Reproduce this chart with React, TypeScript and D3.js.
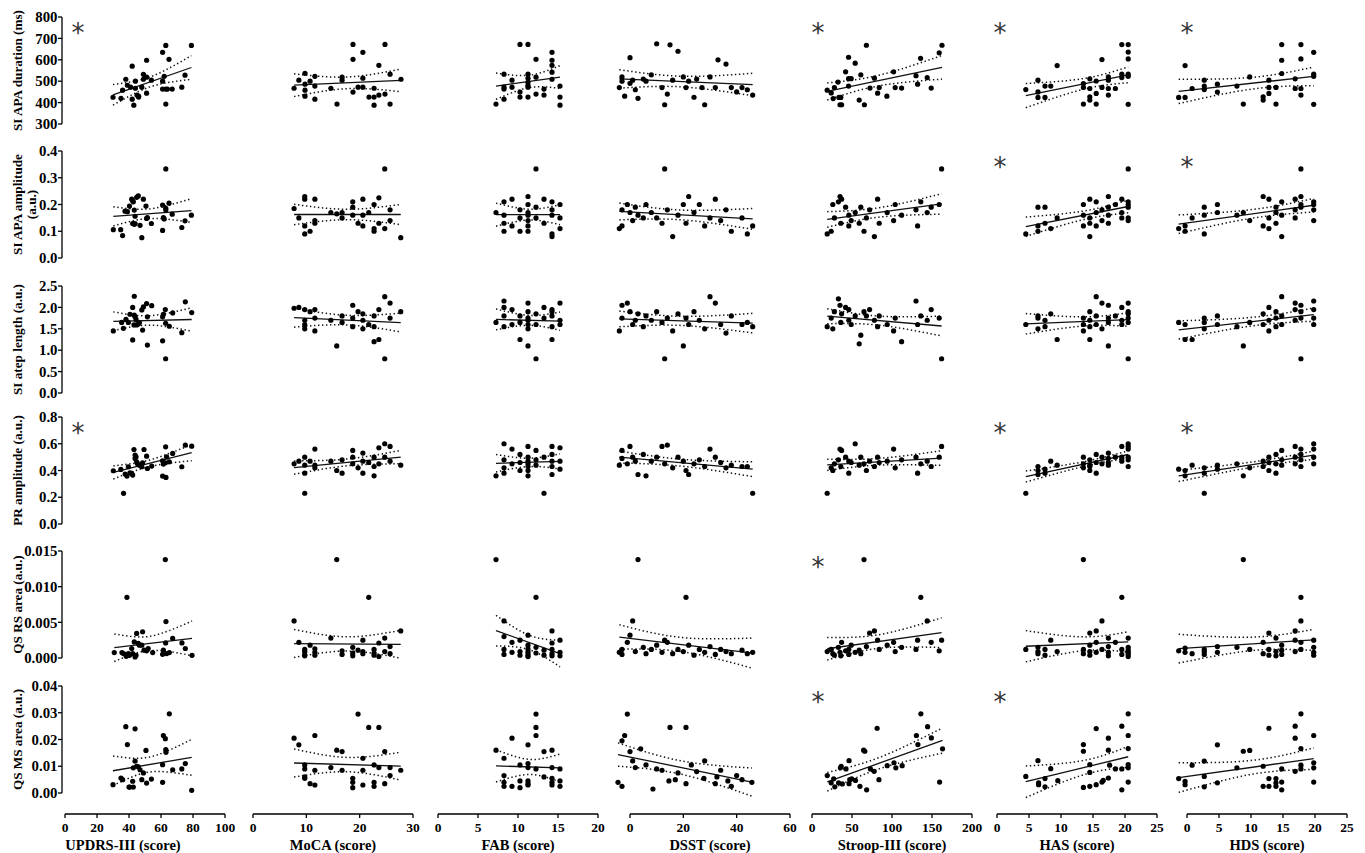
import React from 'react';
import * as d3 from 'd3';

// ---------- axis definitions ----------
const scoreLabels = ['UPDRS-III (score)', 'MoCA (score)', 'FAB (score)', 'DSST (score)', 'Stroop-III (score)', 'HAS (score)', 'HDS (score)'];
const xDomains: [number, number][] = [[0, 100], [0, 30], [0, 20], [0, 60], [0, 200], [0, 25], [0, 25]];
const xTicks = [[0, 20, 40, 60, 80, 100], [0, 10, 20, 30], [0, 5, 10, 15, 20], [0, 20, 40, 60], [0, 50, 100, 150, 200], [0, 5, 10, 15, 20, 25], [0, 5, 10, 15, 20, 25]];

const measureLabels = [['SI APA duration (ms)'], ['SI APA amplitude', '(a.u.)'], ['SI atep length (a.u.)'], ['PR amplitude (a.u.)'], ['QS RS area (a.u.)'], ['QS MS area (a.u.)']];
const yDomains: [number, number][] = [[300, 800], [0, 0.4], [0, 2.5], [0, 0.8], [0, 0.015], [0, 0.04]];
const yTicks = [[300, 400, 500, 600, 700, 800], [0, 0.1, 0.2, 0.3, 0.4], [0, 0.5, 1, 1.5, 2, 2.5], [0, 0.2, 0.4, 0.6, 0.8], [0, 0.005, 0.01, 0.015], [0, 0.01, 0.02, 0.03, 0.04]];
const yDecimals = [0, 1, 1, 1, 3, 2];

// significance markers (row x column)
const significant = [
  [1, 0, 0, 0, 1, 1, 1],
  [0, 0, 0, 0, 0, 1, 1],
  [0, 0, 0, 0, 0, 0, 0],
  [1, 0, 0, 0, 0, 1, 1],
  [0, 0, 0, 0, 1, 0, 0],
  [0, 0, 0, 0, 1, 1, 0],
];

// ---------- data: row 0, SI APA duration (ms) ----------
const durUPDRS = [[30,425],[35,420],[36,458],[38,509],[39,481],[41,472],[42,570],[42,416],[43,388],[44,467],[44,500],[45,435],[46,426],[46,430],[48,472],[49,509],[49,532],[51,598],[51,519],[51,444],[54,505],[61,635],[61,500],[61,463],[62,523],[63,667],[63,463],[63,393],[64,463],[65,602],[67,463],[73,472],[75,528],[79,667]];
const durMoCA = [[7.7,467],[8.6,505],[9.75,537],[9.75,486],[9.75,458],[9.75,430],[10.7,500],[11.6,523],[11.6,477],[11.6,416],[14.6,467],[15.75,393],[16.7,519],[16.7,505],[18.75,672],[18.75,602],[18.75,449],[19.7,472],[20.6,635],[20.6,514],[20.6,472],[21.75,426],[22.7,467],[22.7,426],[22.7,388],[23.6,574],[23.6,435],[24.75,672],[24.75,440],[25.7,533],[25.7,393],[27.75,509]];
const durFAB = [[7.25,393],[8.25,533],[8.25,472],[8.25,463],[8.25,416],[9.25,505],[9.25,472],[10.25,672],[10.25,449],[10.25,426],[11.25,672],[11.25,533],[11.25,514],[11.25,495],[11.25,481],[11.25,472],[11.25,426],[12.25,602],[12.25,519],[12.25,440],[13.25,463],[13.25,435],[14.25,635],[14.25,598],[14.25,574],[14.25,509],[14.25,542],[15.25,477],[15.25,426],[15.25,388]];
const durDSST = [[-4,470],[-3,500],[-3,520],[-2,430],[0,610],[0,490],[1,505],[2,460],[3,420],[5,510],[6,500],[8,530],[10,675],[12,470],[13,390],[14,440],[15,670],[16,505],[18,640],[20,520],[21,470],[22,500],[24,425],[25,510],[27,470],[28,390],[30,520],[32,470],[33,600],[36,580],[38,470],[40,450],[42,470],[44,460],[46,435]];
const durStroop = [[19,458],[24,445],[28,470],[26.5,419],[32.5,496],[33.6,424],[35,390],[37,390],[36,424],[42,544],[45.7,477],[45.7,512],[49,512],[45.7,612],[54,584],[59,412],[61,530],[65.5,390],[68,668],[72.5,468],[78,514],[82,444],[84,470],[93.6,430],[102,544],[104,470],[112,468],[130,526],[132,486],[135.7,607],[144,517],[149,468],[159,633],[162.5,668]];
const durHAS = [[4.5,461],[6.4,505],[6.4,450],[6.4,424],[7.5,424],[7.5,477],[8.4,477],[9.4,573],[13.5,489],[13.5,471],[13.5,393],[14.5,511],[14.5,466],[14.5,427],[14.5,412],[15.5,501],[15.5,443],[15.5,393],[16.4,601],[16.4,471],[17.4,520],[17.4,505],[17.4,466],[17.4,435],[18.5,466],[19.5,671],[19.5,533],[19.5,517],[20.5,671],[20.5,636],[20.5,604],[20.5,533],[20.5,523],[20.5,392]];
const durHDS = [[-1.3,424],[-0.3,424],[-0.3,573],[0.8,466],[2.7,505],[2.7,477],[2.7,461],[4.75,486],[4.75,449],[7.8,477],[8.8,393],[9.8,520],[11.9,427],[11.9,412],[12.8,505],[12.8,471],[12.8,443],[13.9,471],[13.9,393],[14.8,671],[14.8,598],[14.8,536],[16.9,511],[16.9,466],[17.8,671],[17.8,604],[17.8,466],[17.8,435],[19.8,635],[19.8,533],[19.8,523],[19.8,392]];

// ---------- row 1, SI APA amplitude ----------
const ampUPDRS = [[30.2,0.106],[34.8,0.106],[36,0.084],[37.5,0.175],[39,0.173],[40.3,0.194],[41.7,0.22],[42.3,0.214],[42.7,0.21],[42.3,0.129],[43.3,0.126],[43.8,0.129],[43.3,0.179],[43.8,0.156],[44.8,0.227],[45.8,0.232],[46.9,0.122],[48,0.076],[49,0.22],[50.6,0.194],[51,0.148],[51.5,0.151],[54,0.129],[61,0.198],[61,0.103],[61.5,0.151],[62,0.146],[63,0.333],[63,0.186],[63,0.179],[65,0.205],[67,0.164],[73,0.114],[75,0.139],[79,0.16]];
const ampMoCA = [[7.7,0.185],[8.6,0.15],[9.7,0.23],[9.7,0.22],[9.7,0.12],[9.7,0.09],[10.7,0.1],[11.6,0.22],[11.6,0.14],[11.6,0.13],[14.6,0.17],[15.7,0.165],[16.7,0.15],[16.7,0.17],[18.7,0.19],[18.7,0.16],[18.7,0.21],[19.7,0.13],[20.6,0.12],[20.6,0.16],[20.6,0.22],[21.7,0.17],[22.7,0.2],[22.7,0.11],[22.7,0.1],[23.6,0.225],[23.6,0.13],[24.7,0.333],[24.7,0.11],[25.7,0.18],[25.7,0.14],[27.7,0.076]];
const ampFAB = [[7.25,0.17],[8.25,0.21],[8.25,0.16],[8.25,0.13],[8.25,0.1],[9.25,0.22],[9.25,0.12],[10.25,0.18],[10.25,0.15],[10.25,0.1],[11.25,0.23],[11.25,0.2],[11.25,0.17],[11.25,0.16],[11.25,0.14],[11.25,0.12],[11.25,0.1],[12.25,0.333],[12.25,0.19],[12.25,0.15],[13.25,0.22],[13.25,0.13],[14.25,0.21],[14.25,0.18],[14.25,0.16],[14.25,0.09],[14.25,0.08],[15.25,0.2],[15.25,0.15],[15.25,0.11]];
const ampDSST = [[-4,0.11],[-3,0.12],[-3,0.18],[-1,0.2],[0,0.17],[1,0.14],[2,0.19],[3,0.16],[5,0.15],[6,0.2],[8,0.17],[10,0.15],[12,0.13],[13,0.333],[14,0.18],[16,0.08],[18,0.16],[20,0.2],[21,0.13],[22,0.23],[24,0.17],[26,0.2],[28,0.12],[30,0.15],[32,0.22],[34,0.14],[36,0.18],[38,0.1],[42,0.15],[44,0.09],[46,0.12]];
const ampStroop = [[19,0.09],[24,0.1],[26,0.2],[28,0.15],[33,0.21],[35,0.23],[37,0.22],[36,0.13],[42,0.19],[46,0.12],[46,0.16],[49,0.14],[54,0.17],[59,0.13],[61,0.19],[65,0.1],[68,0.15],[72,0.18],[78,0.08],[82,0.22],[84,0.13],[94,0.17],[102,0.14],[104,0.2],[112,0.16],[130,0.18],[132,0.12],[136,0.21],[144,0.17],[149,0.19],[159,0.2],[162,0.333]];
const ampHAS = [[4.5,0.09],[6.4,0.1],[6.4,0.19],[6.4,0.12],[7.5,0.13],[7.5,0.19],[8.4,0.11],[9.4,0.15],[13.5,0.2],[13.5,0.16],[13.5,0.12],[14.5,0.22],[14.5,0.15],[14.5,0.13],[14.5,0.08],[15.5,0.21],[15.5,0.17],[15.5,0.12],[16.4,0.18],[16.4,0.14],[17.4,0.23],[17.4,0.19],[17.4,0.16],[17.4,0.13],[18.5,0.2],[19.5,0.22],[19.5,0.17],[19.5,0.15],[20.5,0.333],[20.5,0.21],[20.5,0.2],[20.5,0.19],[20.5,0.15],[20.5,0.14]];
const ampHDS = [[-1.3,0.11],[-0.3,0.12],[-0.3,0.1],[0.8,0.15],[2.7,0.19],[2.7,0.16],[2.7,0.09],[4.75,0.2],[4.75,0.17],[7.8,0.16],[8.8,0.17],[9.8,0.14],[11.9,0.23],[11.9,0.12],[12.8,0.22],[12.8,0.15],[12.8,0.11],[13.9,0.19],[13.9,0.17],[13.9,0.13],[14.8,0.21],[14.8,0.16],[14.8,0.08],[16.9,0.22],[16.9,0.18],[16.9,0.15],[17.8,0.333],[17.8,0.2],[17.8,0.19],[17.8,0.23],[19.8,0.21],[19.8,0.2],[19.8,0.18],[19.8,0.14]];

// ---------- row 2, SI step length ----------
const lenUPDRS = [[30.2,1.45],[35.4,1.65],[36.5,1.51],[38.1,1.72],[39.6,1.65],[40.6,1.84],[42.3,2.0],[42.3,1.24],[43.3,2.26],[43.3,1.82],[43.8,1.78],[44.4,1.72],[43.1,1.59],[44.8,1.59],[45.8,1.61],[46.5,1.64],[48,1.94],[48.5,1.47],[49,2.01],[51,2.09],[51.5,1.78],[51.5,1.12],[54.2,2.04],[61,1.78],[61,1.22],[61.5,1.84],[62.7,1.95],[62.9,1.63],[62.9,0.8],[65.2,1.56],[67.3,1.87],[73,1.41],[75.2,2.13],[79.2,1.88]];
const lenMoCA = [[7.7,1.98],[8.6,2.0],[9.7,1.95],[9.7,1.6],[9.7,1.5],[9.7,1.7],[10.7,1.9],[11.6,1.95],[11.6,1.45],[11.6,1.75],[14.6,1.7],[15.7,1.1],[16.7,1.8],[16.7,1.65],[18.7,2.05],[18.7,1.55],[18.7,1.75],[19.7,1.9],[20.6,1.7],[20.6,1.5],[20.6,1.85],[21.7,1.6],[22.7,1.8],[22.7,1.55],[22.7,1.2],[23.6,1.95],[23.6,1.25],[24.7,0.8],[24.7,2.25],[25.7,2.1],[25.7,1.75],[27.7,1.9]];
const lenFAB = [[7.25,1.65],[8.25,2.15],[8.25,2.0],[8.25,1.8],[8.25,1.55],[9.25,1.95],[9.25,1.6],[10.25,1.8],[10.25,1.25],[10.25,1.65],[11.25,2.1],[11.25,1.9],[11.25,1.75],[11.25,1.6],[11.25,1.5],[11.25,1.7],[11.25,1.1],[12.25,0.8],[12.25,1.85],[12.25,1.6],[13.25,1.75],[13.25,2.0],[14.25,1.9],[14.25,1.8],[14.25,1.55],[14.25,1.25],[14.25,1.95],[15.25,2.1],[15.25,1.6],[15.25,1.7]];
const lenDSST = [[-4,1.45],[-3,2.05],[-3,1.75],[-1,2.1],[0,1.9],[1,1.6],[2,1.7],[3,1.85],[5,1.55],[6,1.8],[8,1.7],[10,1.9],[12,1.65],[13,0.8],[14,1.75],[16,1.45],[18,1.85],[20,1.1],[21,1.75],[22,1.6],[24,1.9],[26,1.7],[28,1.5],[30,2.25],[32,2.1],[34,1.6],[36,1.4],[38,1.8],[42,1.6],[44,1.65],[46,1.55]];
const lenStroop = [[19,1.55],[24,1.75],[26,1.5],[28,1.9],[33,2.2],[35,2.05],[37,1.85],[36,1.65],[42,2.0],[46,1.95],[46,1.7],[49,1.6],[54,1.8],[59,1.15],[61,1.35],[65,1.9],[68,1.8],[72,1.95],[78,1.7],[82,1.55],[84,1.8],[94,1.6],[102,1.45],[104,1.75],[112,1.2],[130,2.15],[132,1.6],[136,1.8],[144,1.7],[149,1.95],[159,1.75],[162,0.8]];
const lenHAS = [[4.5,1.6],[6.4,1.8],[6.4,1.5],[6.4,1.75],[7.5,1.55],[7.5,1.7],[8.4,1.85],[9.4,1.25],[13.5,1.75],[13.5,1.6],[13.5,1.45],[14.5,1.9],[14.5,1.7],[14.5,1.55],[14.5,1.25],[15.5,2.25],[15.5,1.8],[15.5,1.6],[16.4,2.1],[16.4,1.5],[17.4,2.05],[17.4,1.75],[17.4,1.65],[17.4,1.1],[18.5,1.8],[19.5,2.0],[19.5,1.7],[19.5,1.6],[20.5,0.8],[20.5,2.1],[20.5,1.9],[20.5,1.85],[20.5,1.75],[20.5,1.65]];
const lenHDS = [[-1.3,1.65],[-0.3,1.25],[-0.3,1.6],[0.8,1.25],[2.7,1.75],[2.7,1.5],[2.7,1.65],[4.75,1.8],[4.75,1.6],[7.8,1.55],[8.8,1.1],[9.8,1.65],[11.9,1.85],[11.9,1.6],[12.8,2.0],[12.8,1.7],[12.8,1.45],[13.9,1.9],[13.9,1.75],[13.9,1.55],[14.8,2.25],[14.8,1.8],[14.8,1.6],[16.9,2.1],[16.9,1.95],[16.9,1.7],[17.8,0.8],[17.8,2.05],[17.8,1.9],[17.8,1.75],[19.8,2.15],[19.8,1.95],[19.8,1.75],[19.8,1.6]];

// ---------- row 3, PR amplitude ----------
const prUPDRS = [[30.2,0.398],[34.9,0.408],[36.6,0.229],[37.6,0.373],[38.7,0.358],[39.6,0.428],[40.6,0.383],[41.7,0.378],[42.3,0.366],[43.1,0.557],[43.8,0.49],[44.4,0.502],[44.8,0.465],[45.2,0.453],[43.8,0.515],[46.5,0.44],[48,0.428],[48.5,0.458],[49.4,0.557],[51,0.507],[51.5,0.415],[54.2,0.433],[61,0.473],[61,0.358],[61.5,0.448],[62.7,0.458],[62.9,0.577],[63.1,0.348],[63.5,0.502],[65.2,0.465],[67.3,0.528],[73,0.428],[75.2,0.59],[79.2,0.582]];
const prMoCA = [[7.7,0.45],[8.6,0.47],[9.7,0.38],[9.7,0.23],[9.7,0.44],[9.7,0.5],[10.7,0.47],[11.6,0.56],[11.6,0.42],[11.6,0.44],[14.6,0.47],[15.7,0.4],[16.7,0.48],[16.7,0.38],[18.7,0.45],[18.7,0.5],[18.7,0.55],[19.7,0.42],[20.6,0.47],[20.6,0.53],[20.6,0.38],[21.7,0.46],[22.7,0.5],[22.7,0.43],[22.7,0.36],[23.6,0.57],[23.6,0.45],[24.7,0.5],[24.7,0.6],[25.7,0.58],[25.7,0.47],[27.7,0.44]];
const prFAB = [[7.25,0.36],[8.25,0.6],[8.25,0.48],[8.25,0.42],[8.25,0.38],[9.25,0.56],[9.25,0.45],[10.25,0.52],[10.25,0.46],[10.25,0.4],[11.25,0.58],[11.25,0.5],[11.25,0.47],[11.25,0.45],[11.25,0.43],[11.25,0.4],[11.25,0.36],[12.25,0.55],[12.25,0.48],[12.25,0.44],[13.25,0.23],[13.25,0.5],[14.25,0.58],[14.25,0.52],[14.25,0.47],[14.25,0.43],[14.25,0.37],[15.25,0.57],[15.25,0.47],[15.25,0.41]];
const prDSST = [[-4,0.44],[-3,0.49],[-3,0.55],[-1,0.45],[0,0.58],[1,0.5],[2,0.47],[3,0.37],[5,0.52],[6,0.36],[8,0.47],[10,0.5],[12,0.58],[13,0.45],[14,0.59],[16,0.42],[18,0.5],[20,0.47],[21,0.4],[22,0.37],[24,0.45],[26,0.48],[28,0.43],[30,0.56],[32,0.5],[34,0.46],[36,0.42],[38,0.44],[42,0.43],[44,0.43],[46,0.23]];
const prStroop = [[19,0.23],[24,0.42],[26,0.4],[28,0.45],[33,0.48],[35,0.56],[37,0.55],[36,0.43],[42,0.5],[46,0.47],[46,0.38],[49,0.46],[54,0.6],[59,0.44],[61,0.5],[65,0.45],[68,0.4],[72,0.47],[78,0.43],[82,0.5],[84,0.46],[94,0.47],[102,0.56],[104,0.42],[112,0.48],[130,0.5],[132,0.38],[136,0.45],[144,0.47],[149,0.43],[159,0.5],[162,0.58]];
const prHAS = [[4.5,0.23],[6.4,0.4],[6.4,0.37],[6.4,0.43],[7.5,0.41],[7.5,0.38],[8.4,0.47],[9.4,0.44],[13.5,0.45],[13.5,0.42],[13.5,0.5],[14.5,0.48],[14.5,0.44],[14.5,0.43],[14.5,0.4],[15.5,0.52],[15.5,0.46],[15.5,0.38],[16.4,0.5],[16.4,0.45],[17.4,0.53],[17.4,0.49],[17.4,0.46],[17.4,0.44],[18.5,0.5],[19.5,0.58],[19.5,0.5],[19.5,0.47],[20.5,0.6],[20.5,0.58],[20.5,0.56],[20.5,0.5],[20.5,0.48],[20.5,0.43]];
const prHDS = [[-1.3,0.41],[-0.3,0.4],[-0.3,0.36],[0.8,0.44],[2.7,0.23],[2.7,0.42],[2.7,0.38],[4.75,0.44],[4.75,0.41],[7.8,0.45],[8.8,0.36],[9.8,0.42],[11.9,0.47],[11.9,0.43],[12.8,0.5],[12.8,0.46],[12.8,0.4],[13.9,0.52],[13.9,0.45],[13.9,0.38],[14.8,0.55],[14.8,0.48],[14.8,0.44],[16.9,0.58],[16.9,0.5],[16.9,0.45],[17.8,0.56],[17.8,0.52],[17.8,0.48],[17.8,0.43],[19.8,0.6],[19.8,0.56],[19.8,0.5],[19.8,0.45]];

// ---------- row 4, QS RS area ----------
const rsUPDRS = [[30.8,0.00076],[35.6,0.00076],[36.6,0.00062],[38.3,0.00024],[38.7,0.0085],[39.6,0.00062],[40.3,0.00038],[41.7,0.00133],[42.3,0.00062],[43.3,0.00226],[43.8,0.00014],[44.4,0.00038],[44.8,0.00345],[45.8,0.00204],[46.5,0.0018],[48,0.0018],[48.5,0.00368],[49.4,0.0011],[51,0.001],[52,0.00133],[54.8,0.00076],[61,0.00052],[61.5,0.0011],[62.7,0.0138],[63.1,0.0051],[62.9,0.00212],[63.5,0.00062],[65.2,0.00076],[67.3,0.00274],[73.1,0.00212],[75.2,0.00133],[79.4,0.00038]];
const rsMoCA = [[7.7,0.0052],[8.6,0.0022],[9.7,0.0009],[9.7,0.0005],[9.7,0.0012],[9.7,0.0003],[10.7,0.0018],[11.6,0.0008],[11.6,0.0004],[11.6,0.0013],[14.6,0.0028],[15.7,0.0138],[16.7,0.001],[16.7,0.0005],[18.7,0.0015],[18.7,0.0007],[18.7,0.0003],[19.7,0.0011],[20.6,0.0006],[20.6,0.0025],[20.6,0.0009],[21.7,0.0085],[22.7,0.0004],[22.7,0.0012],[22.7,0.0007],[23.6,0.0021],[23.6,0.0002],[24.7,0.0028],[24.7,0.0009],[25.7,0.0016],[25.7,0.0006],[27.7,0.0038]];
const rsFAB = [[7.25,0.0138],[8.25,0.0052],[8.25,0.003],[8.25,0.0012],[8.25,0.0005],[9.25,0.0022],[9.25,0.0008],[10.25,0.0025],[10.25,0.0009],[10.25,0.0004],[11.25,0.0032],[11.25,0.0018],[11.25,0.0013],[11.25,0.0009],[11.25,0.0006],[11.25,0.0003],[11.25,0.0002],[12.25,0.0085],[12.25,0.0015],[12.25,0.0007],[13.25,0.0011],[13.25,0.0004],[14.25,0.0038],[14.25,0.0021],[14.25,0.0012],[14.25,0.0006],[14.25,0.0003],[15.25,0.0025],[15.25,0.0008],[15.25,0.0003]];
const rsDSST = [[-4,0.0008],[-3,0.0005],[-3,0.0012],[-1,0.0022],[0,0.0032],[1,0.0052],[2,0.0009],[3,0.0138],[5,0.0015],[6,0.0006],[8,0.0012],[10,0.0018],[12,0.0008],[13,0.0025],[14,0.0022],[16,0.0006],[18,0.0012],[20,0.0009],[21,0.0085],[22,0.0018],[24,0.0004],[26,0.0012],[28,0.0008],[30,0.0016],[32,0.0005],[34,0.0012],[36,0.0009],[38,0.0006],[42,0.0011],[44,0.0006],[46,0.0008]];
const rsStroop = [[19,0.0009],[24,0.0012],[26,0.0006],[28,0.0004],[33,0.0015],[35,0.0008],[37,0.0022],[36,0.0003],[42,0.001],[46,0.0012],[46,0.0005],[49,0.0018],[54,0.0008],[59,0.0011],[61,0.0006],[65,0.0138],[68,0.0016],[72,0.0035],[78,0.0038],[82,0.0025],[84,0.0012],[94,0.0018],[102,0.0022],[104,0.0009],[112,0.0015],[130,0.0012],[132,0.0025],[136,0.0085],[144,0.0052],[149,0.0022],[159,0.001],[162,0.0025]];
const rsHAS = [[4.5,0.0012],[6.4,0.0015],[6.4,0.0006],[6.4,0.0009],[7.5,0.0012],[7.5,0.0004],[8.4,0.0025],[9.4,0.0009],[13.5,0.0138],[13.5,0.0012],[13.5,0.0006],[14.5,0.0035],[14.5,0.0018],[14.5,0.0009],[14.5,0.0004],[15.5,0.0038],[15.5,0.0022],[15.5,0.0008],[16.4,0.0052],[16.4,0.0012],[17.4,0.0028],[17.4,0.0016],[17.4,0.0008],[17.4,0.0003],[18.5,0.0022],[19.5,0.0085],[19.5,0.0012],[19.5,0.0005],[20.5,0.0028],[20.5,0.0015],[20.5,0.0011],[20.5,0.0008],[20.5,0.0005],[20.5,0.0002]];
const rsHDS = [[-1.3,0.001],[-0.3,0.0008],[-0.3,0.0014],[0.8,0.0006],[2.7,0.0012],[2.7,0.0005],[2.7,0.0009],[4.75,0.0016],[4.75,0.0008],[7.8,0.0015],[8.8,0.0138],[9.8,0.0012],[11.9,0.0022],[11.9,0.0006],[12.8,0.0035],[12.8,0.0012],[12.8,0.0004],[13.9,0.0028],[13.9,0.0009],[13.9,0.0003],[14.8,0.0018],[14.8,0.0011],[14.8,0.0005],[16.9,0.0038],[16.9,0.0025],[16.9,0.0009],[17.8,0.0085],[17.8,0.0052],[17.8,0.0022],[17.8,0.0012],[19.8,0.0025],[19.8,0.0015],[19.8,0.0008],[19.8,0.0004]];

// ---------- row 5, QS MS area ----------
const msUPDRS = [[30,0.0031],[35,0.0056],[36,0.005],[38,0.0248],[39,0.0181],[40,0.0022],[40.5,0.0022],[42.3,0.0044],[42.7,0.0094],[42.7,0.0022],[43.8,0.024],[43.8,0.0119],[44.8,0.01],[45.8,0.0098],[46.9,0.0087],[48,0.005],[49,0.0075],[50.6,0.0159],[51,0.0037],[54,0.0052],[61,0.0106],[61,0.004],[61.5,0.0215],[62.7,0.0203],[63,0.0162],[63.1,0.0152],[65.2,0.0296],[67.3,0.0087],[73,0.009],[75.2,0.011],[79.2,0.001]];
const msMoCA = [[7.7,0.0205],[8.6,0.018],[9.7,0.0105],[9.7,0.006],[9.7,0.009],[9.7,0.0055],[10.7,0.0035],[11.6,0.0215],[11.6,0.003],[11.6,0.0085],[14.6,0.0095],[15.7,0.016],[16.7,0.0155],[16.7,0.0085],[18.7,0.0055],[18.7,0.002],[18.7,0.004],[19.7,0.0295],[20.6,0.003],[20.6,0.0085],[20.6,0.013],[21.7,0.0245],[22.7,0.004],[22.7,0.0105],[22.7,0.0025],[23.6,0.0245],[23.6,0.0095],[24.7,0.0155],[24.7,0.0035],[25.7,0.0095],[25.7,0.0065],[27.7,0.0085]];
const msFAB = [[7.25,0.016],[8.25,0.013],[8.25,0.0065],[8.25,0.004],[8.25,0.0025],[9.25,0.0205],[9.25,0.0025],[10.25,0.0105],[10.25,0.0045],[10.25,0.002],[11.25,0.018],[11.25,0.011],[11.25,0.0095],[11.25,0.0045],[11.25,0.003],[11.25,0.0035],[12.25,0.0295],[12.25,0.0245],[12.25,0.0215],[12.25,0.009],[13.25,0.006],[13.25,0.0155],[14.25,0.016],[14.25,0.0095],[14.25,0.0055],[14.25,0.004],[14.25,0.003],[15.25,0.009],[15.25,0.0045],[15.25,0.0025]];
const msDSST = [[-4.5,0.004],[-3,0.0025],[-3,0.0195],[-2,0.0215],[-1,0.0295],[0,0.0155],[1,0.012],[2,0.0095],[4,0.0165],[6,0.0105],[8.6,0.0015],[10,0.009],[12,0.0085],[14.6,0.0045],[15,0.0245],[17,0.005],[18,0.0075],[21,0.0035],[21,0.0245],[23,0.0105],[25,0.008],[27.7,0.0055],[28,0.012],[32,0.0035],[32.6,0.006],[34,0.0085],[36.7,0.0045],[38,0.0025],[40,0.0065],[42,0.005],[45.7,0.004]];
const msStroop = [[19.1,0.0065],[23.9,0.0038],[27.1,0.0053],[28.5,0.0023],[33.2,0.0038],[35.5,0.0094],[36.5,0.01],[37.9,0.0034],[42.5,0.009],[46.3,0.0121],[47.2,0.005],[46.3,0.0035],[49.6,0.0053],[54.3,0.0047],[59.9,0.0025],[64.5,0.016],[66,0.0156],[68.3,0.0012],[73,0.009],[77.7,0.0081],[81.4,0.0242],[83.7,0.005],[94,0.0102],[102.5,0.0113],[104.8,0.0094],[112.7,0.0102],[130.5,0.0215],[132.4,0.0181],[136.1,0.0296],[144.5,0.0248],[149.2,0.0206],[159.5,0.0041],[163.2,0.0165]];
const msHAS = [[4.5,0.0062],[6.4,0.0121],[6.5,0.0038],[6.5,0.0031],[7.5,0.0054],[7.5,0.0023],[8.4,0.0091],[9.5,0.0046],[13.5,0.0181],[13.5,0.0156],[13.5,0.0021],[14.5,0.0025],[14.5,0.0106],[14.5,0.0077],[15.5,0.0031],[15.5,0.0241],[16.4,0.0041],[16.6,0.0047],[17.4,0.0205],[17.4,0.016],[17.4,0.0056],[17.6,0.0104],[18.5,0.009],[19.5,0.025],[19.5,0.009],[19.5,0.0012],[20.5,0.0296],[20.5,0.0215],[20.5,0.0166],[20.5,0.0106],[20.5,0.0094],[20.5,0.0041]];
const msHDS = [[-1.3,0.0054],[-0.3,0.0044],[-0.3,0.0031],[0.8,0.0104],[2.7,0.0062],[2.7,0.0119],[2.7,0.0023],[4.75,0.0038],[4.75,0.018],[7.8,0.0094],[8.8,0.0156],[9.8,0.0159],[11.9,0.01],[11.9,0.0025],[12.8,0.0242],[12.8,0.0054],[12.8,0.0025],[13.9,0.0054],[13.9,0.0038],[13.9,0.0025],[14.8,0.009],[14.8,0.0041],[14.8,0.0012],[16.9,0.025],[16.9,0.0205],[16.9,0.0081],[17.8,0.0296],[17.8,0.0166],[17.8,0.009],[17.8,0.0104],[19.8,0.0215],[19.8,0.0113],[19.8,0.0094],[19.8,0.0041]];

const panelData = [
  [durUPDRS, durMoCA, durFAB, durDSST, durStroop, durHAS, durHDS],
  [ampUPDRS, ampMoCA, ampFAB, ampDSST, ampStroop, ampHAS, ampHDS],
  [lenUPDRS, lenMoCA, lenFAB, lenDSST, lenStroop, lenHAS, lenHDS],
  [prUPDRS, prMoCA, prFAB, prDSST, prStroop, prHAS, prHDS],
  [rsUPDRS, rsMoCA, rsFAB, rsDSST, rsStroop, rsHAS, rsHDS],
  [msUPDRS, msMoCA, msFAB, msDSST, msStroop, msHAS, msHDS],
];

// ---------- layout ----------
const colX0 = [65, 253, 438, 630, 812, 997, 1187];
const colW = 160;
const rowBottom = [124, 258, 393, 524, 658, 793];
const rowH = 107;
const yAxisX = 62;
const xAxisY = 814;
const starOffset = [13, 0, 0, 0, 6, 3, 0];
const titleShift = [-22, 0, 0, 0, 0, 0, 0];
const FONT = "'Liberation Serif', 'Times New Roman', serif";

function tQuantile(df: number) {
  const z = 1.959964;
  return z + (z ** 3 + z) / (4 * df) + (5 * z ** 5 + 16 * z ** 3 + 3 * z) / (96 * df * df);
}

function linearFit(pts: number[][]) {
  const n = pts.length;
  const mx = d3.mean(pts, (p) => p[0]) as number;
  const my = d3.mean(pts, (p) => p[1]) as number;
  let sxx = 0, sxy = 0;
  pts.forEach(([x, y]) => { sxx += (x - mx) ** 2; sxy += (x - mx) * (y - my); });
  const b = sxy / sxx;
  const a = my - b * mx;
  let sse = 0;
  pts.forEach(([x, y]) => { sse += (y - (a + b * x)) ** 2; });
  const s = Math.sqrt(sse / (n - 2));
  const tq = tQuantile(n - 2);
  const [xmin, xmax] = d3.extent(pts, (p) => p[0]) as [number, number];
  return {
    f: (x: number) => a + b * x,
    ci: (x: number) => tq * s * Math.sqrt(1 / n + (x - mx) ** 2 / sxx),
    xmin, xmax,
  };
}

function Panel({ r, c }: { r: number; c: number }) {
  const pts = panelData[r][c];
  const xs = d3.scaleLinear().domain(xDomains[c]).range([colX0[c], colX0[c] + colW]);
  const ys = d3.scaleLinear().domain(yDomains[r]).range([rowBottom[r], rowBottom[r] - rowH]);
  const fit = linearFit(pts);
  const samples = d3.range(0, 41).map((i) => fit.xmin + (fit.xmax - fit.xmin) * i / 40);
  const line = d3.line<number[]>().x((d) => xs(d[0])).y((d) => ys(d[1]));
  const fitLine = line([[fit.xmin, fit.f(fit.xmin)], [fit.xmax, fit.f(fit.xmax)]]) || '';
  const upper = line(samples.map((x) => [x, fit.f(x) + fit.ci(x)])) || '';
  const lower = line(samples.map((x) => [x, fit.f(x) - fit.ci(x)])) || '';
  return (
    <g>
      <path d={upper} fill="none" stroke="#111" strokeWidth={1.5} strokeDasharray="1.4 2.6" />
      <path d={lower} fill="none" stroke="#111" strokeWidth={1.5} strokeDasharray="1.4 2.6" />
      <path d={fitLine} fill="none" stroke="#111" strokeWidth={1.3} />
      {pts.map((p, i) => (
        <circle key={i} cx={xs(p[0])} cy={ys(p[1])} r={2.6} fill="#000" />
      ))}
      {significant[r][c] ? (
        <text x={colX0[c] + starOffset[c]} y={rowBottom[r] - rowH + 25} fontFamily="'DejaVu Sans', sans-serif" fontSize={26} fill="#333" textAnchor="middle">*</text>
      ) : null}
    </g>
  );
}

function YAxis({ r }: { r: number }) {
  const ys = d3.scaleLinear().domain(yDomains[r]).range([rowBottom[r], rowBottom[r] - rowH]);
  const fmt = d3.format(`.${yDecimals[r]}f`);
  const cy = rowBottom[r] - rowH / 2;
  const lines = measureLabels[r];
  return (
    <g>
      <line x1={yAxisX} x2={yAxisX} y1={ys(yDomains[r][0])} y2={ys(yDomains[r][1])} stroke="#000" strokeWidth={1.3} />
      {yTicks[r].map((t) => (
        <g key={t}>
          <line x1={yAxisX - 4} x2={yAxisX} y1={ys(t)} y2={ys(t)} stroke="#000" strokeWidth={1.3} />
          <text x={yAxisX - 4.5} y={ys(t)} dy="0.35em" textAnchor="end" fontFamily={FONT} fontWeight="bold" fontSize={14.8} fill="#000">{fmt(t)}</text>
        </g>
      ))}
      {lines.map((txt, i) => (
        <text key={i} transform={`translate(${17 + i * 14},${cy}) rotate(-90)`} dy="0.35em" textAnchor="middle" fontFamily={FONT} fontWeight="bold" fontSize={13.2} fill="#000">{txt}</text>
      ))}
    </g>
  );
}

function XAxis({ c }: { c: number }) {
  const xs = d3.scaleLinear().domain(xDomains[c]).range([colX0[c], colX0[c] + colW]);
  return (
    <g>
      <line x1={xs(xDomains[c][0])} x2={xs(xDomains[c][1])} y1={xAxisY} y2={xAxisY} stroke="#000" strokeWidth={1.3} />
      {xTicks[c].map((t) => (
        <g key={t}>
          <line x1={xs(t)} x2={xs(t)} y1={xAxisY} y2={xAxisY + 4} stroke="#000" strokeWidth={1.3} />
          <text x={xs(t)} y={xAxisY + 18} textAnchor="middle" fontFamily={FONT} fontWeight="bold" fontSize={13.5} fill="#000">{t}</text>
        </g>
      ))}
      <text x={(xs(xDomains[c][0]) + xs(xDomains[c][1])) / 2 + titleShift[c]} y={xAxisY + 36} textAnchor="middle" fontFamily={FONT} fontWeight="bold" fontSize={14.5} fill="#000">{scoreLabels[c]}</text>
    </g>
  );
}

export default function App() {
  return (
    <svg width={1365} height={853} style={{ position: 'absolute', left: 0, top: 0, background: '#fff' }}>
      <rect x={0} y={0} width={1365} height={853} fill="#fff" />
      {measureLabels.map((_, r) => <YAxis key={`y${r}`} r={r} />)}
      {scoreLabels.map((_, c) => <XAxis key={`x${c}`} c={c} />)}
      {panelData.map((row, r) => row.map((_, c) => <Panel key={`p${r}-${c}`} r={r} c={c} />))}
    </svg>
  );
}
